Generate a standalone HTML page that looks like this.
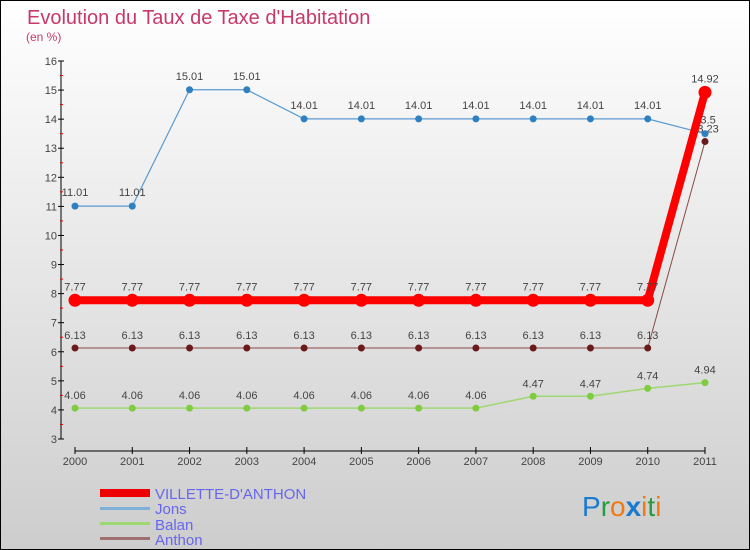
<!DOCTYPE html>
<html><head><meta charset="utf-8"><style>
body{margin:0}
svg{display:block;font-family:"Liberation Sans",sans-serif}
</style></head><body>
<svg id="c" width="750" height="550">
<defs><linearGradient id="bg" x1="0" y1="0" x2="0" y2="1"><stop offset="0" stop-color="#ffffff"/><stop offset="1" stop-color="#cdcdcd"/></linearGradient></defs>
<rect x="0.5" y="0.5" width="749" height="549" fill="url(#bg)" stroke="#000"/>
<text x="27" y="24" font-size="20" fill="#c8386a">Evolution du Taux de Taxe d'Habitation</text>
<text x="26" y="41" font-size="12" fill="#c8386a">(en %)</text>
<g id="axes"></g><g id="series"></g>
<g>
<rect x="100" y="489" width="50" height="8" fill="#e00"/>
<text x="155" y="499" font-size="15" fill="#6666ee">VILLETTE-D'ANTHON</text>
<rect x="100" y="507" width="50" height="3" fill="#7fb0d8"/>
<text x="155" y="514" font-size="15" fill="#6666ee">Jons</text>
<rect x="100" y="522" width="50" height="3" fill="#9ed870"/>
<text x="155" y="530" font-size="15" fill="#6666ee">Balan</text>
<rect x="100" y="537" width="50" height="3" fill="#a07070"/>
<text x="155" y="545" font-size="15" fill="#6666ee">Anthon</text>
</g>
<g font-size="28" font-family="'Liberation Sans',sans-serif"><text x="582" y="516"><tspan fill="#1a7ad0">P</tspan><tspan fill="#2a9a40">r</tspan><tspan fill="#f07a10">o</tspan><tspan fill="#1a7ad0" font-weight="bold">x</tspan><tspan fill="#f07a10">i</tspan><tspan fill="#2a9a40">t</tspan><tspan fill="#f07a10">i</tspan></text></g>
</svg>
<script>
const years=[2000,2001,2002,2003,2004,2005,2006,2007,2008,2009,2010,2011];
const villette=[7.77,7.77,7.77,7.77,7.77,7.77,7.77,7.77,7.77,7.77,7.77,14.92];
const jons=[11.01,11.01,15.01,15.01,14.01,14.01,14.01,14.01,14.01,14.01,14.01,13.5];
const balan=[4.06,4.06,4.06,4.06,4.06,4.06,4.06,4.06,4.47,4.47,4.74,4.94];
const anthon=[6.13,6.13,6.13,6.13,6.13,6.13,6.13,6.13,6.13,6.13,6.13,13.23];
const yTicks=[3,4,5,6,7,8,9,10,11,12,13,14,15,16];
const NS="http://www.w3.org/2000/svg";
const X=i=>75+i*(630/(years.length-1));
const Y=v=>439-(v-3)*(378/13);
function el(t,a,p){const e=document.createElementNS(NS,t);for(const k in a)e.setAttribute(k,a[k]);p.appendChild(e);return e;}
const ax=document.getElementById('axes'),sg=document.getElementById('series');
const ya=el('line',{x1:61,y1:Y(16),x2:61,y2:Y(3),stroke:'#000'},ax);


yTicks.forEach(t=>{
 el('line',{x1:58,x2:64,y1:Y(t),y2:Y(t),stroke:'#000'},ax);
 if(t<16)el('line',{x1:60,x2:63,y1:Y(t+0.5),y2:Y(t+0.5),stroke:'#e00'},ax);
 const tx=el('text',{x:57,y:Y(t)+4,'text-anchor':'end','font-size':11,fill:'#444'},ax);tx.textContent=t;
 
 
});
const xa=el('line',{x1:75,y1:451,x2:705,y2:451,stroke:'#000'},ax);


years.forEach((y,i)=>{
 el('line',{x1:X(i),x2:X(i),y1:447,y2:454,stroke:'#000'},ax);
 const tx=el('text',{x:X(i),y:465,'text-anchor':'middle','font-size':11,fill:'#444'},ax);tx.textContent=y;
 
 
});
function series(name,vals,color,w,r,dot,lblDy){
 const g=el('g',{},sg);
 
 
 el('polyline',{points:vals.map((v,i)=>X(i)+','+Y(v)).join(' '),fill:'none',stroke:color,'stroke-width':w},g);
 vals.forEach((v,i)=>{
  const c=el('circle',{cx:X(i),cy:Y(v),r:r,fill:dot},g);
  
  
  const t=el('text',{x:X(i),y:Y(v)+lblDy,'text-anchor':'middle','font-size':11,fill:'#444'},g);
  t.textContent=v;
 });
}
series('anthon',anthon,'#8a4848',1,3.5,'#6a1a1a',-9);
series('balan',balan,'#9ed870',1.5,3.5,'#80cc40',-9);
series('jons',jons,'#5a9ad0',1.2,3.5,'#2e80c0',-10);
series('villette',villette,'#f00',8,6.5,'#f00',-10);
</script>
</body></html>
